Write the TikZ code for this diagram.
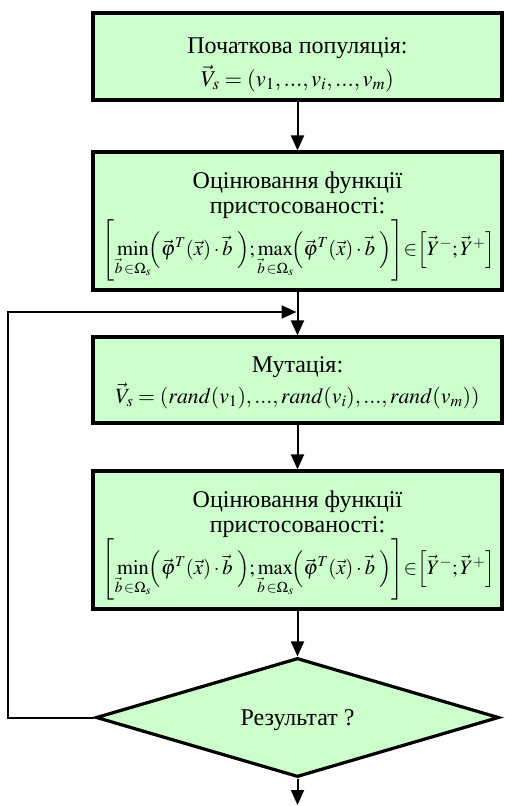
\documentclass[tikz,border=0pt]{standalone}
\usepackage{mathptmx}
\usepackage{amsmath}
\usepackage[no-math]{fontspec}
\setmainfont{Liberation Serif}
\newfontfamily\lserif{Liberation Serif}
\usetikzlibrary{arrows.meta,shapes.geometric}
\definecolor{boxgreen}{HTML}{CCFFCC}
\newcommand{\fitfrm}{\Biggl[\mathop{\min}\limits_{\vec{b}\,\in\Omega_s}\!\Bigl(\vec{\varphi}^{T}(\vec{x})\cdot\vec{b}\;\Bigr);\mathop{\max}\limits_{\vec{b}\,\in\Omega_s}\!\Bigl(\vec{\varphi}^{T}(\vec{x})\cdot\vec{b}\;\Bigr)\Biggr]\!\!\in\!\!\Bigl[\vec{Y}^{-};\vec{Y}^{+}\Bigr]}
\begin{document}
\begin{tikzpicture}[x=1pt,y=-1pt,
  block/.style={draw=black,fill=boxgreen,line width=3.2pt,rectangle,minimum width=409pt,inner sep=0pt},
  decision/.style={draw=black,fill=boxgreen,line width=3.2pt,diamond,aspect=3.39,minimum width=403pt,minimum height=119pt,inner sep=0pt},
  txt/.style={anchor=base,inner sep=0pt,font=\lserif\fontsize{24}{26}\selectfont},
  frm/.style={anchor=center,inner sep=0pt},
  conn/.style={line width=2pt,-{Triangle[length=15pt,width=13pt]}},
  plain/.style={line width=2pt}]
\useasboundingbox (0,0) rectangle (504,806);
% boxes
\node[block,minimum height=87pt] (b1) at (297.5,56.5) {};
\node[block,minimum height=138pt] (b2) at (297.5,221) {};
\node[block,minimum height=86pt] (b3) at (297.5,380) {};
\node[block,minimum height=138pt] (b4) at (297.5,540) {};
\node[decision] (d) at (297.5,717.5) {};
% texts
\node[txt] (t1) at (297.5,53) {Початкова популяція:};
\node[frm] (f1) at (297.5,78.5) {\resizebox{193pt}{!}{\fontsize{23}{26}\selectfont$\vec{V}_s=(v_1,...,v_i,...,v_m)$}};
\node[txt] (t2a) at (297.5,188) {Оцінювання функції};
\node[txt] (t2b) at (297.5,213) {пристосованості:};
\node[frm] (f2) at (299,250) {\resizebox{392pt}{!}{\fontsize{23}{26}\selectfont$\fitfrm$}};
\node[txt] (t3) at (297.5,372) {Мутація:};
\node[frm] (f3) at (297.5,396) {\resizebox{364pt}{!}{\fontsize{23}{26}\selectfont$\vec{V}_s=(rand(v_1),...,rand(v_i),...,rand(v_m))$}};
\node[txt] (t4a) at (297.5,507) {Оцінювання функції};
\node[txt] (t4b) at (297.5,532) {пристосованості:};
\node[frm] (f4) at (299,569) {\resizebox{392pt}{!}{\fontsize{23}{26}\selectfont$\fitfrm$}};
\node[txt] (t5) at (297.5,725) {Результат ?};
% connectors
\coordinate (j) at (297.5,312);
\coordinate (lc) at (8,717.5);
\coordinate (endp) at (297.5,805);
\draw[conn] (b1.south) -- (b2.north);
\draw[conn] (b2.south) -- (b3.north);
\draw[conn] (b3.south) -- (b4.north);
\draw[conn] (b4.south) -- (d.north);
\draw[conn] (d.south) -- (endp);
\draw[plain,-{Triangle[length=15pt,width=13pt]},shorten >=1pt] (d.west) -- (lc) |- (j);
\end{tikzpicture}
\end{document}
